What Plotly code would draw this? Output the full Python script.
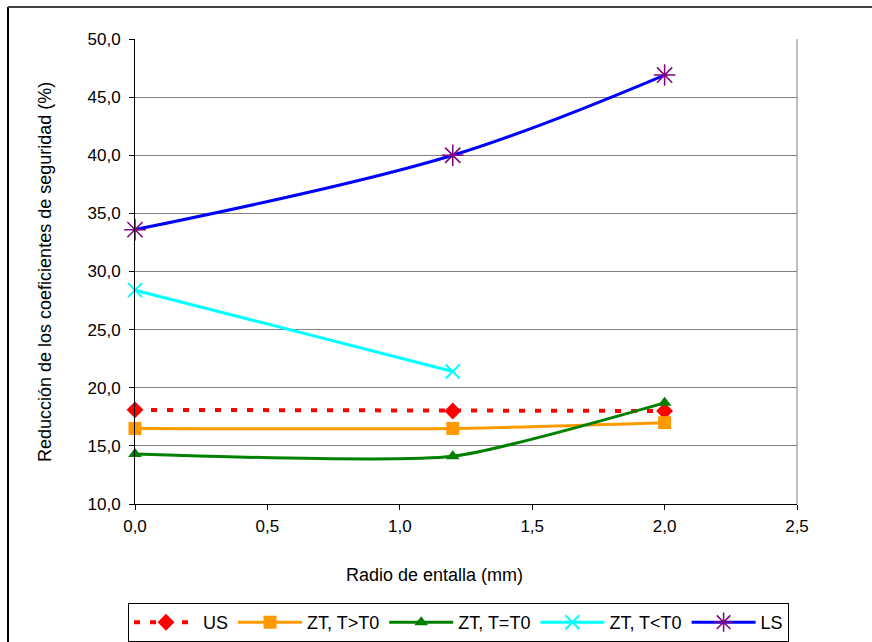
import plotly.graph_objects as go

x_vals = [0.0, 1.2, 2.0]
x_zt_lt = [0.0, 1.2]

us = [18.1, 18.0, 18.0]
zt_gt = [16.5, 16.5, 17.0]
zt_eq = [14.3, 14.1, 18.7]
zt_lt = [28.4, 21.4]
ls = [33.6, 40.0, 46.9]

names = ["US", "ZT, T>T0", "ZT, T=T0", "ZT, T<T0", "LS"]
x_title = "Radio de entalla (mm)"
y_title = "Reducción de los coeficientes de seguridad (%)"

FONT = "Liberation Sans, Arial, sans-serif"

fig = go.Figure()
fig.add_trace(go.Scatter(
    x=x_vals, y=us, name=names[0], mode="lines+markers",
    line=dict(color="#FF0000", width=4, dash="6px,10px"),
    marker=dict(symbol="diamond", size=13, color="#FF0000"),
    cliponaxis=False))
fig.add_trace(go.Scatter(
    x=x_vals, y=zt_gt, name=names[1], mode="lines+markers",
    line=dict(color="#FF9900", width=3, shape="spline", smoothing=0.6),
    marker=dict(symbol="square", size=13, color="#FF9900"),
    cliponaxis=False))
fig.add_trace(go.Scatter(
    x=x_vals, y=zt_eq, name=names[2], mode="lines+markers",
    line=dict(color="#008000", width=3, shape="spline", smoothing=0.55),
    marker=dict(symbol="triangle-up", size=12, color="#008000"),
    cliponaxis=False))
fig.add_trace(go.Scatter(
    x=x_zt_lt, y=zt_lt, name=names[3], mode="lines+markers",
    line=dict(color="#00FFFF", width=3, shape="spline"),
    marker=dict(symbol="x-thin", size=14, color="#00FFFF",
                line=dict(color="#00FFFF", width=2)),
    cliponaxis=False))
fig.add_trace(go.Scatter(
    x=x_vals, y=ls, name=names[4], mode="lines+markers",
    line=dict(color="#0000FF", width=3, shape="spline", smoothing=1.0),
    marker=dict(symbol="asterisk", size=18, color="#800080",
                line=dict(color="#800080", width=1.5)),
    cliponaxis=False))

L, R, T, B = 135, 75, 39, 138
W, H = 872, 642
pw, ph = W - L - R, H - T - B

def px_x(p):
    return (p - L) / pw

def px_y(p):
    return (H - B - p) / ph

fig.update_layout(
    width=W, height=H,
    margin=dict(l=L, r=R, t=T, b=B, autoexpand=False),
    paper_bgcolor="white", plot_bgcolor="white",
    separators=",.",
    font=dict(family=FONT, size=17, color="black"),
    showlegend=True,
    legend=dict(
        orientation="h", x=px_x(128), y=px_y(603),
        xanchor="left", yanchor="top",
        bordercolor="black", borderwidth=1,
        font=dict(size=18), itemwidth=64,
        tracegroupgap=0,
    ),
    xaxis=dict(
        range=[0, 2.5], dtick=0.5, tick0=0, tickformat=".1f",
        showline=True, linecolor="black", linewidth=1,
        ticks="outside", ticklen=5, tickcolor="black",
        showgrid=False, zeroline=False,
        tickfont=dict(size=17), ticklabelstandoff=2,
    ),
    yaxis=dict(
        range=[10, 50], dtick=5, tick0=10, tickformat=".1f",
        showline=True, linecolor="black", linewidth=1,
        ticks="outside", ticklen=5, tickcolor="black",
        showgrid=True, gridcolor="#808080", gridwidth=1,
        zeroline=False,
        tickfont=dict(size=17), ticklabelstandoff=5,
    ),
    annotations=[
        dict(text=x_title, xref="paper", yref="paper",
             x=px_x(434), y=px_y(575), xanchor="center", yanchor="middle",
             showarrow=False, font=dict(size=18)),
        dict(text=y_title, xref="paper", yref="paper", textangle=-90,
             x=px_x(45), y=px_y(272), xanchor="center", yanchor="middle",
             showarrow=False, font=dict(size=18)),
    ],
    shapes=[
        dict(type="line", xref="paper", yref="paper",
             x0=1, x1=1, y0=0, y1=1,
             line=dict(color="#808080", width=1)),
        dict(type="line", xref="paper", yref="paper",
             x0=px_x(8), x1=px_x(8), y0=px_y(7), y1=px_y(660),
             line=dict(color="black", width=2)),
        dict(type="line", xref="paper", yref="paper",
             x0=px_x(8), x1=px_x(880), y0=px_y(7), y1=px_y(7),
             line=dict(color="#404040", width=2)),
    ],
)

fig.write_html("out.html")
